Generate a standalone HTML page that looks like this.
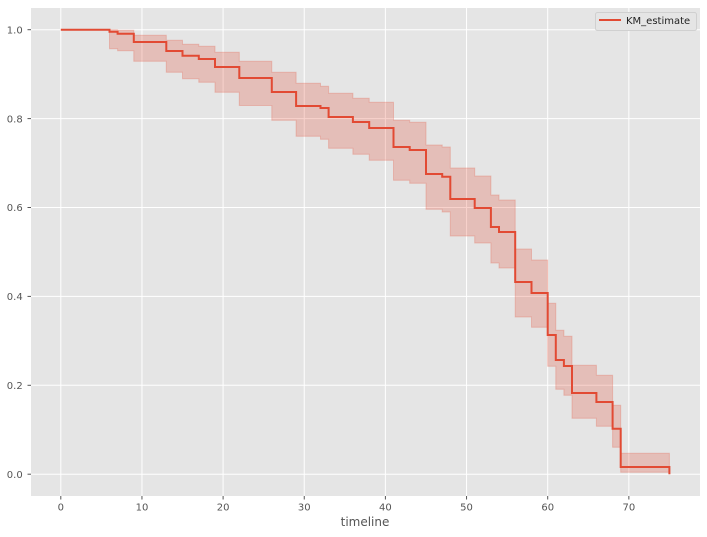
<!DOCTYPE html>
<html>
<head>
<meta charset="utf-8">
<style>
  html,body{margin:0;padding:0;background:#fff;}
  svg{display:block;}
  text{font-family:"DejaVu Sans", "Liberation Sans", sans-serif;}
</style>
</head>
<body>
<svg width="707" height="537" viewBox="0 0 707 537" xmlns="http://www.w3.org/2000/svg">
  <rect x="0" y="0" width="707" height="537" fill="#ffffff"/>
  <!-- plot area -->
  <rect x="31" y="8" width="669" height="488" fill="#E5E5E5"/>
  <!-- grid -->
  <g stroke="#ffffff" stroke-width="1">
    <line x1="60.8" y1="8" x2="60.8" y2="496"/>
    <line x1="141.95" y1="8" x2="141.95" y2="496"/>
    <line x1="223.1" y1="8" x2="223.1" y2="496"/>
    <line x1="304.25" y1="8" x2="304.25" y2="496"/>
    <line x1="385.4" y1="8" x2="385.4" y2="496"/>
    <line x1="466.55" y1="8" x2="466.55" y2="496"/>
    <line x1="547.7" y1="8" x2="547.7" y2="496"/>
    <line x1="628.85" y1="8" x2="628.85" y2="496"/>
    <line x1="31" y1="474.2" x2="700" y2="474.2"/>
    <line x1="31" y1="385.3" x2="700" y2="385.3"/>
    <line x1="31" y1="296.4" x2="700" y2="296.4"/>
    <line x1="31" y1="207.5" x2="700" y2="207.5"/>
    <line x1="31" y1="118.6" x2="700" y2="118.6"/>
    <line x1="31" y1="29.7" x2="700" y2="29.7"/>
  </g>
  <!-- confidence band -->
  <path d="M109.5,29.7 H117.6 V30.3 H133.8 V35.3 H166.3 V40.3 H182.5 V44.3 H198.8 V46.3 H215 V52.3 H239.3 V61.3 H271.8 V72.3 H296.1 V83.3 H320.5 V86.3 H328.6 V93.3 H352.9 V98.3 H369.2 V102.3 H393.5 V120.3 H409.7 V122.3 H426 V145 H442.2 V147 H450.3 V168 H474.7 V176 H490.9 V195 H499 V200 H515.2 V249 H531.5 V260 H547.7 V303.3 H555.8 V330.3 H563.9 V336.3 H572 V365.3 H596.4 V375.3 H612.6 V405.3 H620.7 V453.3 H669.4 V472.3 H620.7 V447.3 H612.6 V426.3 H596.4 V418.3 H572 V395.3 H563.9 V389.3 H555.8 V366.3 H547.7 V327.3 H531.5 V317 H515.2 V268 H499 V263 H490.9 V243 H474.7 V236 H450.3 V212 H442.2 V209.3 H426 V183.3 H409.7 V180.3 H393.5 V160.3 H369.2 V154.3 H352.9 V148.3 H328.6 V139.3 H320.5 V136.3 H296.1 V120.3 H271.8 V105.5 H239.3 V92.3 H215 V82.3 H198.8 V78.7 H182.5 V72.3 H166.3 V61.3 H133.8 V50.7 H117.6 V48.7 H109.5 Z"
        fill="#E24A33" fill-opacity="0.25" stroke="#E24A33" stroke-opacity="0.25" stroke-width="1"/>
  <!-- KM estimate line -->
  <path d="M60.8,29.7 H109.5 V31.7 H117.6 V33.7 H133.8 V42 H166.3 V51 H182.5 V55.7 H198.8 V59 H215 V67 H239.3 V78 H271.8 V92 H296.1 V106 H320.5 V108 H328.6 V117 H352.9 V122 H369.2 V128 H393.5 V147 H409.7 V150 H426 V174 H442.2 V176.7 H450.3 V199 H474.7 V208 H490.9 V227 H499 V232 H515.2 V282 H531.5 V293 H547.7 V335 H555.8 V360 H563.9 V366 H572 V393 H596.4 V402 H612.6 V428.7 H620.7 V467 H669.4 V474.2"
        fill="none" stroke="#E24A33" stroke-width="2" stroke-linejoin="miter"/>
  <!-- ticks -->
  <g stroke="#555555" stroke-width="1">
    <line x1="27.5" y1="474.2" x2="31" y2="474.2"/>
    <line x1="27.5" y1="385.3" x2="31" y2="385.3"/>
    <line x1="27.5" y1="296.4" x2="31" y2="296.4"/>
    <line x1="27.5" y1="207.5" x2="31" y2="207.5"/>
    <line x1="27.5" y1="118.6" x2="31" y2="118.6"/>
    <line x1="27.5" y1="29.7" x2="31" y2="29.7"/>
    <line x1="60.8" y1="496" x2="60.8" y2="499.5"/>
    <line x1="141.95" y1="496" x2="141.95" y2="499.5"/>
    <line x1="223.1" y1="496" x2="223.1" y2="499.5"/>
    <line x1="304.25" y1="496" x2="304.25" y2="499.5"/>
    <line x1="385.4" y1="496" x2="385.4" y2="499.5"/>
    <line x1="466.55" y1="496" x2="466.55" y2="499.5"/>
    <line x1="547.7" y1="496" x2="547.7" y2="499.5"/>
    <line x1="628.85" y1="496" x2="628.85" y2="499.5"/>
  </g>
  <!-- y tick labels -->
  <g fill="#555555" font-size="10" text-anchor="end">
    <text x="22.7" y="477.9">0.0</text>
    <text x="22.7" y="389">0.2</text>
    <text x="22.7" y="300.1">0.4</text>
    <text x="22.7" y="211.2">0.6</text>
    <text x="22.7" y="122.3">0.8</text>
    <text x="22.7" y="33.4">1.0</text>
  </g>
  <!-- x tick labels -->
  <g fill="#555555" font-size="10" text-anchor="middle">
    <text x="60.8" y="510.3">0</text>
    <text x="141.95" y="510.3">10</text>
    <text x="223.1" y="510.3">20</text>
    <text x="304.25" y="510.3">30</text>
    <text x="385.4" y="510.3">40</text>
    <text x="466.55" y="510.3">50</text>
    <text x="547.7" y="510.3">60</text>
    <text x="628.85" y="510.3">70</text>
  </g>
  <text x="365" y="526.2" fill="#555555" font-size="12" text-anchor="middle">timeline</text>
  <!-- legend -->
  <rect x="595.5" y="12.5" width="101" height="18" rx="2" ry="2" fill="#E5E5E5" stroke="#D0D0D0" stroke-width="1"/>
  <line x1="599" y1="20" x2="621" y2="20" stroke="#E24A33" stroke-width="2"/>
  <text x="626" y="23.8" fill="#222222" font-size="10">KM_estimate</text>
</svg>
</body>
</html>
